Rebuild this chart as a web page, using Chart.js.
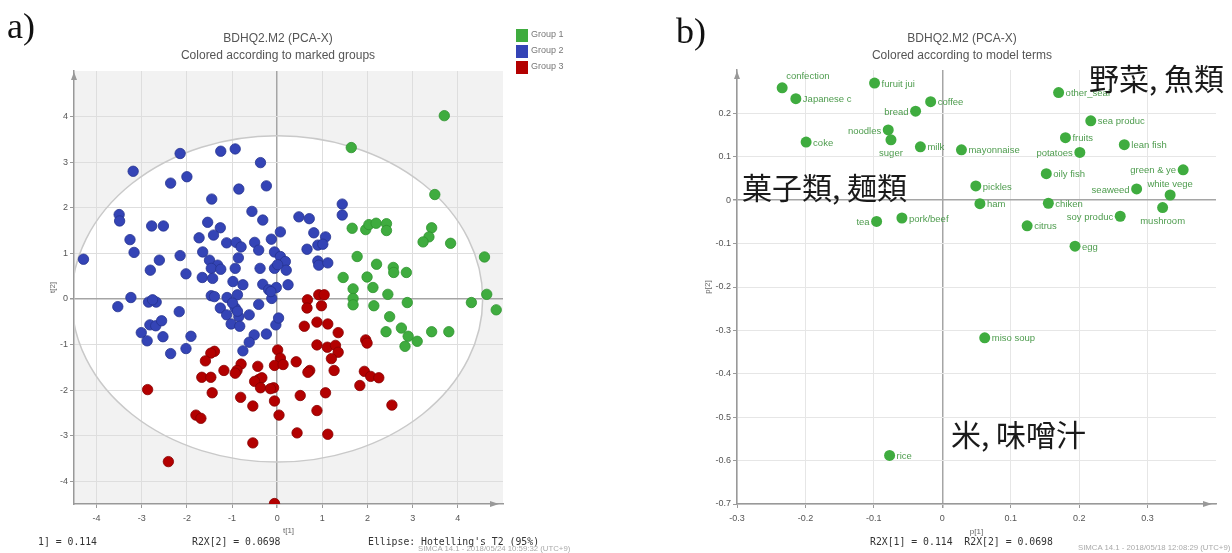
<!DOCTYPE html>
<html>
<head>
<meta charset="utf-8">
<script src="https://cdn.jsdelivr.net/npm/chart.js@4.4.1/dist/chart.umd.min.js"></script>
<style>
    body { margin: 0; width: 1232px; height: 553px; background: #fff; position: relative; overflow: hidden; font-family: "Liberation Sans", Arial, sans-serif; }
    canvas { position: absolute; top: 0; }
    #scoreChart { left: 0; }
    #loadingChart { left: 620px; }
    .txt { position: absolute; white-space: nowrap; line-height: 1; }
    .panel-tag { font-family: "Liberation Serif", "Times New Roman", serif; font-size: 36px; color: #111; }
    .title { font-size: 12px; color: #555; transform: translateX(-50%); }
    .mono { font-family: "DejaVu Sans Mono", "Liberation Mono", monospace; font-size: 9.8px; color: #333; }
    .stamp { font-size: 7.8px; color: #aaa; }
    .legend { position: absolute; left: 516px; top: 29px; font-size: 9px; color: #777; }
    .legend div { height: 16px; display: flex; align-items: flex-start; }
    .legend span { display: inline-block; width: 12px; height: 13px; margin-right: 3px; }
    .cjk { font-family: "Noto Sans CJK JP", "Noto Sans CJK SC", sans-serif; font-size: 30px; color: #1a1a1a; }
</style>
</head>
<body>
<canvas id="scoreChart" width="620" height="553"></canvas>
<canvas id="loadingChart" width="612" height="553"></canvas>

<div class="txt panel-tag" style="left:7px;top:8px;">a)</div>
<div class="txt panel-tag" style="left:676px;top:13px;">b)</div>

<div class="txt title" style="left:278px;top:32px;">BDHQ2.M2 (PCA-X)</div>
<div class="txt title" style="left:278px;top:49px;">Colored according to marked groups</div>
<div class="txt title" style="left:962px;top:32px;">BDHQ2.M2 (PCA-X)</div>
<div class="txt title" style="left:962px;top:49px;">Colored according to model terms</div>

<div class="legend" id="legend"></div>

<div class="txt cjk" style="left:1089px;top:62px;">野菜, 魚類</div>
<div class="txt cjk" style="left:742px;top:171px;">菓子類, 麺類</div>
<div class="txt cjk" style="left:951px;top:418px;">米, 味噌汁</div>

<div class="txt mono" style="left:38px;top:537px;">1] = 0.114</div>
<div class="txt mono" style="left:192px;top:537px;">R2X[2] = 0.0698</div>
<div class="txt mono" style="left:368px;top:537px;">Ellipse: Hotelling's T2 (95%)</div>
<div class="txt stamp" style="left:418px;top:545px;">SIMCA 14.1 - 2018/05/24 10:59:32 (UTC+9)</div>
<div class="txt mono" style="left:870px;top:537px;">R2X[1] = 0.114&nbsp;&nbsp;R2X[2] = 0.0698</div>
<div class="txt stamp" style="left:1078px;top:544px;">SIMCA 14.1 - 2018/05/18 12:08:29 (UTC+9)</div>

<script>
// ---- a) score plot t[1] / t[2] ----
const groupNames = ['Group 1', 'Group 2', 'Group 3'];
const groupColors = ['#3fac3f', '#3444b6', '#b30000'];
const groupEdges = ['#2e932e', '#26338f', '#870000'];

const group1T1 = [3.70, 1.64, 3.49, 1.66, 1.96, 2.03, 2.19, 2.42, 2.42, 3.42, 3.36, 3.23, 3.84, 4.59, 1.77, 2.20, 2.57, 2.58, 2.86, 1.46,
    1.99, 1.68, 2.12, 2.45, 1.68, 1.68, 2.14, 2.88, 2.49, 2.41, 2.75, 2.90, 2.83, 3.10, 3.42, 3.80, 4.30, 4.64, 4.85];
const group1T2 = [4.02, 3.32, 2.29, 1.55, 1.52, 1.63, 1.66, 1.65, 1.50, 1.56, 1.36, 1.25, 1.22, 0.92, 0.93, 0.76, 0.69, 0.58, 0.58, 0.47,
    0.48, 0.22, 0.25, 0.10, 0.01, -0.13, -0.15, -0.08, -0.39, -0.72, -0.64, -0.82, -1.04, -0.93, -0.72, -0.72, -0.08, 0.10, -0.24];

const group2T1 = [-4.29, -3.50, -3.49, -3.26, -3.17, -3.19, -2.78, -2.52, -2.81, -2.61, -2.15, -2.36, -2.00, -2.15, -2.02, -1.45, -1.25, -0.93, -0.85, -0.37,
    -0.24, -0.56, -0.32, -1.54, -1.26, -1.73, -1.41, -1.12, -0.91, -0.80, -1.65, -1.50, -1.32, -1.46, -1.25, -0.86, -0.93, -0.50, -0.41, -0.38,
    -0.13, 0.07, -0.06, 0.07, 0.18, -0.06, 0.20, 0.48, 0.71, 0.81, 1.07, 0.66, 0.90, 1.01, 0.90, 0.92, 1.12, 1.44, 1.44,
    -3.53, -3.24, -2.85, -2.68, -2.76, -2.17, -3.01, -2.88, -2.82, -2.69, -2.56, -2.53, -1.91, -2.02, -2.36, -1.66, -1.43, -1.46, -1.26, -1.11,
    -0.98, -0.76, -1.12, -1.02, -0.93, -0.85, -0.62, -0.83, -0.41, -0.32, -0.19, -0.12, -0.02, 0.24, -0.51, -0.62, -0.76, -0.24, -0.03, 0.03,
    0.01, -0.88, -1.39, -0.14, -0.99, -0.88];
const group2T2 = [0.87, 1.85, 1.71, 1.30, 1.02, 2.80, 1.60, 1.60, 0.63, 0.85, 3.19, 2.54, 2.68, 0.95, 0.55, 2.19, 3.24, 3.29, 2.41, 2.99,
    2.48, 1.92, 1.73, 1.68, 1.56, 1.34, 1.40, 1.23, 1.24, 1.14, 1.03, 0.85, 0.74, 0.67, 0.65, 0.90, 0.67, 1.24, 1.07, 0.67,
    1.31, 1.47, 1.03, 0.93, 0.82, 0.67, 0.63, 1.80, 1.76, 1.45, 1.36, 1.09, 1.18, 1.20, 0.83, 0.74, 0.79, 2.08, 1.84,
    -0.17, 0.03, -0.07, -0.07, -0.02, -0.28, -0.74, -0.92, -0.57, -0.59, -0.48, -0.83, -0.82, -1.09, -1.20, 0.47, 0.45, 0.07, -0.20, 0.03,
    0.38, 0.31, -0.35, -0.55, -0.20, -0.39, -0.35, -0.60, -0.12, 0.32, 0.20, 0.01, 0.25, 0.31, -0.79, -0.95, -1.14, -0.77, -0.57, -0.42,
    0.75, 0.09, 0.05, 0.16, -0.09, -0.27];

const group3T1 = [0.67, 0.66, 0.92, 1.04, 0.98, 0.60, 0.88, 1.12, 1.35, 0.88, 1.11, 1.29, 1.35, 1.20, 1.26, 0.72, 0.68, 0.51, 1.07, 0.88,
    0.44, 1.12, 1.96, 1.99, 1.93, 2.07, 2.25, 1.83, 2.54, 0.01, 0.07, -0.06, 0.13, 0.42, -0.08, -0.06, 0.04, -0.80, -0.89, -0.93,
    -0.43, -0.41, -0.34, -0.50, -0.37, -0.15, -0.81, -0.54, -0.54, -1.18, -1.39, -1.47, -1.59, -1.67, -1.47, -1.44, -1.80, -1.69, -2.87, -2.41,
    -0.06];
const group3T2 = [-0.02, -0.20, 0.09, 0.09, -0.15, -0.60, -0.51, -0.55, -0.74, -1.01, -1.06, -1.02, -1.17, -1.31, -1.57, -1.57, -1.61, -2.12, -2.06, -2.45,
    -2.94, -2.97, -0.90, -0.97, -1.59, -1.70, -1.73, -1.90, -2.33, -1.12, -1.30, -1.46, -1.44, -1.38, -1.95, -2.24, -2.55, -1.43, -1.57, -1.63,
    -1.48, -1.77, -1.73, -1.81, -1.95, -1.97, -2.16, -2.35, -3.16, -1.57, -1.15, -1.19, -1.36, -1.72, -1.72, -2.06, -2.55, -2.62, -1.99, -3.57,
    -4.49];

const scoreTicksX = [-4, -3, -2, -1, 0, 1, 2, 3, 4];
const scoreTicksY = [-4, -3, -2, -1, 0, 1, 2, 3, 4];
const ellipseT1 = 4.55;   // Hotelling's T2 (95%) half-width
const ellipseT2 = 3.58;   // half-height

// ---- b) loading plot p[1] / p[2] ----
const termNames = ['confection', 'Japanese c', 'coke', 'furuit jui', 'bread', 'coffee', 'noodles', 'suger', 'milk', 'mayonnaise',
    'pickles', 'ham', 'tea', 'pork/beef', 'other_seaf', 'sea produc', 'fruits', 'potatoes', 'lean fish', 'green & ye',
    'white vege', 'seaweed', 'oily fish', 'chiken', 'soy produc', 'mushroom', 'citrus', 'egg', 'miso soup', 'rice'];
const termP1 = [-0.234, -0.214, -0.199, -0.099, -0.039, -0.017, -0.079, -0.075, -0.032, 0.028,
    0.049, 0.055, -0.096, -0.059, 0.170, 0.217, 0.180, 0.201, 0.266, 0.352,
    0.333, 0.284, 0.152, 0.155, 0.260, 0.322, 0.124, 0.194, 0.062, -0.077];
const termP2 = [0.259, 0.234, 0.134, 0.270, 0.205, 0.227, 0.162, 0.139, 0.123, 0.116,
    0.033, -0.008, -0.049, -0.041, 0.248, 0.183, 0.144, 0.110, 0.128, 0.070,
    0.012, 0.026, 0.061, -0.007, -0.037, -0.017, -0.059, -0.106, -0.317, -0.588];

const loadingTicksX = [-0.3, -0.2, -0.1, 0, 0.1, 0.2, 0.3];
const loadingTicksY = [-0.7, -0.6, -0.5, -0.4, -0.3, -0.2, -0.1, 0, 0.1, 0.2];

// where each term label sits next to its point (default: right)
const labelSide = {
    'confection': 'ar', 'bread': 'l', 'noodles': 'l', 'suger': 'b', 'potatoes': 'l', 'tea': 'l',
    'green & ye': 'l', 'white vege': 'a', 'seaweed': 'l', 'soy produc': 'l', 'mushroom': 'b'
};

Chart.defaults.font.family = '"Liberation Sans", Arial, sans-serif';

const zip = (xs, ys) => xs.map((x, i) => ({ x: x, y: ys[i] }));

function makeAxis(min, max, tickValues, titleText, size, isX, gridColor, titlePad) {
    return {
        type: 'linear',
        min: min,
        max: max,
        afterBuildTicks: scale => { scale.ticks = tickValues.map(v => ({ value: v })); },
        afterFit: scale => { if (isX) scale.height = size; else scale.width = size; },
        ticks: { color: '#555', font: { size: 9 }, padding: isX ? 5 : 2, autoSkip: false, maxRotation: 0, callback: v => String(v) },
        grid: {
            color: c => (c.tick && c.tick.value === 0) ? '#a5a5a5' : gridColor,
            lineWidth: c => (c.tick && c.tick.value === 0) ? 1.5 : 1,
            tickLength: 4,
            tickColor: '#9a9a9a'
        },
        border: { color: '#999', width: 1.5 },
        title: { display: true, text: titleText, color: '#666', font: { size: 8 }, padding: titlePad }
    };
}

// small arrow heads at the ends of both axes
const axisArrows = {
    id: 'axisArrows',
    afterDraw(chart) {
        const a = chart.chartArea, c = chart.ctx;
        c.save();
        c.fillStyle = '#999';
        c.beginPath();
        c.moveTo(a.left, a.top + 1); c.lineTo(a.left - 3, a.top + 9); c.lineTo(a.left + 3, a.top + 9);
        c.closePath(); c.fill();
        c.beginPath();
        c.moveTo(a.right - 4, a.bottom); c.lineTo(a.right - 13, a.bottom - 3); c.lineTo(a.right - 13, a.bottom + 3);
        c.closePath(); c.fill();
        c.restore();
    }
};

function ellipsePath(chart) {
    const sx = chart.scales.x, sy = chart.scales.y, c = chart.ctx;
    const cx = sx.getPixelForValue(0), cy = sy.getPixelForValue(0);
    const rx = sx.getPixelForValue(ellipseT1) - cx;
    const ry = cy - sy.getPixelForValue(ellipseT2);
    c.beginPath();
    c.ellipse(cx, cy, rx, ry, 0, 0, Math.PI * 2);
}

// grey plot background with the white T2 ellipse inside
const ellipseBackground = {
    id: 'ellipseBackground',
    beforeDraw(chart) {
        const a = chart.chartArea, c = chart.ctx;
        c.save();
        c.fillStyle = '#f2f2f2';
        c.fillRect(a.left, a.top, a.right - a.left, a.bottom - a.top);
        c.beginPath();
        c.rect(a.left, a.top, a.right - a.left, a.bottom - a.top);
        c.clip();
        ellipsePath(chart);
        c.fillStyle = '#ffffff';
        c.fill();
        c.restore();
    },
    beforeDatasetsDraw(chart) {
        const a = chart.chartArea, c = chart.ctx;
        c.save();
        c.beginPath();
        c.rect(a.left, a.top, a.right - a.left, a.bottom - a.top);
        c.clip();
        ellipsePath(chart);
        c.strokeStyle = '#c9c9c9';
        c.lineWidth = 1.5;
        c.stroke();
        c.restore();
    }
};

// labels next to the loading points
const termLabels = {
    id: 'termLabels',
    afterDatasetsDraw(chart) {
        const c = chart.ctx;
        const meta = chart.getDatasetMeta(0);
        c.save();
        c.font = '9.5px "Liberation Sans", Arial, sans-serif';
        c.fillStyle = '#4e9c4e';
        c.textBaseline = 'middle';
        meta.data.forEach((pt, i) => {
            const name = termNames[i];
            const side = labelSide[name] || 'r';
            let x = pt.x + 7, y = pt.y + 1;
            c.textAlign = 'left';
            if (side === 'l') { x = pt.x - 7; c.textAlign = 'right'; }
            if (side === 'a') { x = pt.x; y = pt.y - 11; c.textAlign = 'center'; }
            if (side === 'ar') { x = pt.x + 4; y = pt.y - 11; }
            if (side === 'b') { x = pt.x; y = pt.y + 14; c.textAlign = 'center'; }
            c.fillText(name, x, y);
        });
        c.restore();
    }
};

// legend for the score plot
const legendBox = document.getElementById('legend');
groupNames.forEach((name, i) => {
    const row = document.createElement('div');
    row.innerHTML = '<span style="background:' + groupColors[i] + '"></span>' + name;
    legendBox.appendChild(row);
});

const groupT1 = [group1T1, group2T1, group3T1];
const groupT2 = [group1T2, group2T2, group3T2];

new Chart(document.getElementById('scoreChart'), {
    type: 'scatter',
    data: {
        datasets: groupNames.map((name, i) => ({
            label: name,
            data: zip(groupT1[i], groupT2[i]),
            backgroundColor: groupColors[i],
            borderColor: groupEdges[i],
            borderWidth: 0.8,
            pointRadius: 5.2
        }))
    },
    options: {
        responsive: false,
        animation: false,
        devicePixelRatio: 1,
        layout: { padding: { left: 40, right: 117, top: 71, bottom: 15 } },
        plugins: { legend: { display: false }, tooltip: { enabled: false } },
        scales: {
            x: makeAxis(-4.5, 5, scoreTicksX, 't[1]', 34, true, '#dedede', { top: 0, bottom: 2 }),
            y: makeAxis(-4.5, 5, scoreTicksY, 't[2]', 34, false, '#dedede', { top: 8, bottom: 0 })
        }
    },
    plugins: [ellipseBackground, axisArrows]
});

new Chart(document.getElementById('loadingChart'), {
    type: 'scatter',
    data: {
        datasets: [{
            label: 'terms',
            data: zip(termP1, termP2),
            backgroundColor: '#3fac3f',
            borderWidth: 0,
            pointRadius: 5.5
        }]
    },
    options: {
        responsive: false,
        animation: false,
        devicePixelRatio: 1,
        layout: { padding: { left: 80, right: 16, top: 70, bottom: 15 } },
        plugins: { legend: { display: false }, tooltip: { enabled: false } },
        scales: {
            x: makeAxis(-0.3, 0.4, loadingTicksX, 'p[1]', 34, true, '#e6e6e6', { top: 0, bottom: 1 }),
            y: makeAxis(-0.7, 0.3, loadingTicksY, 'p[2]', 37, false, '#e6e6e6', { top: 3, bottom: 0 })
        }
    },
    plugins: [termLabels, axisArrows]
});
</script>
</body>
</html>
